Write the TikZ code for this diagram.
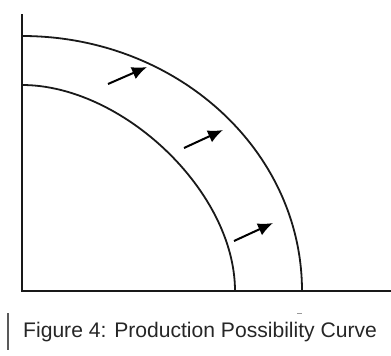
\documentclass[tikz,border=0pt]{standalone}
\usepackage{fontspec}
\setmainfont{Liberation Sans}
\usetikzlibrary{arrows.meta}
\begin{document}
\begin{tikzpicture}[x=1pt,y=-1pt,
  axisline/.style={line width=2.3pt,draw=black!90},
  curveline/.style={line width=1.8pt,draw=black!90},
  shiftarrow/.style={line width=2pt,draw=black,-{Latex[length=15pt,width=13pt]}},
  captiontext/.style={inner sep=0pt,anchor=base west,text=black!85,font=\fontsize{21.1}{25}\selectfont},
  captionbar/.style={line width=1.5pt,draw=black!65}]
\useasboundingbox (0,0) rectangle (391,356);
% axes
\coordinate (ytop) at (22,14);
\coordinate (origin) at (22,291);
\coordinate (xend) at (391,291);
\draw[axisline] (ytop) -- (origin) -- (xend);
% inner curve
\coordinate (in1) at (22,85);
\coordinate (in2) at (235,291);
\draw[curveline] (in1) .. controls (122,85) and (235,191) .. (in2);
% outer curve
\coordinate (out1) at (22,36);
\coordinate (out2) at (302,291);
\draw[curveline] (out1) .. controls (176.6,36) and (302,150.2) .. (out2);
% arrows
\coordinate (a1s) at (108,84);  \coordinate (a1e) at (147,67);
\coordinate (a2s) at (184,148); \coordinate (a2e) at (223,130);
\coordinate (a3s) at (234,241); \coordinate (a3e) at (273,223);
\draw[shiftarrow] (a1s) -- (a1e);
\draw[shiftarrow] (a2s) -- (a2e);
\draw[shiftarrow] (a3s) -- (a3e);
% small mark
\coordinate (m1) at (297,313); \coordinate (m2) at (302,313);
\draw[line width=0.8pt,draw=black!40] (m1) -- (m2);
% caption
\coordinate (b1) at (8,313); \coordinate (b2) at (8,350);
\draw[captionbar] (b1) -- (b2);
\node[captiontext] (caption) at (23,337.7) {Figure 4: Production Possibility Curve};
\end{tikzpicture}
\end{document}
